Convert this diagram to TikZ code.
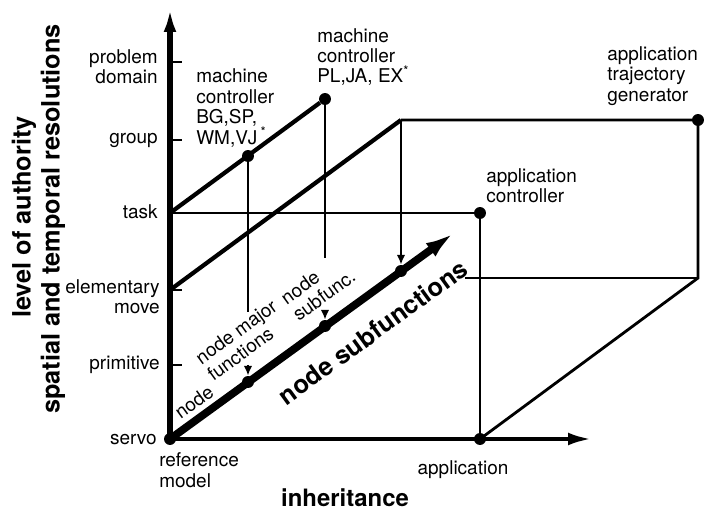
\documentclass[tikz,border=0pt]{standalone}
\usepackage{fontspec}
\setmainfont{TeX Gyre Heros}
\usetikzlibrary{arrows.meta}

\tikzset{
  lbl/.style={font=\fontsize{13.5}{14.5}\selectfont, inner sep=0pt, align=left},
  boldlbl/.style={font=\fontsize{18}{20}\selectfont\bfseries, inner sep=0pt},
  junction/.style={circle, fill, inner sep=0pt, minimum size=8.5pt},
  axis/.style={line width=3.6pt, -{Latex[length=17pt,width=9pt]}},
  cubeline/.style={line width=3pt},
  cubethin/.style={line width=2pt},
  drop/.style={line width=1.7pt, -{Latex[length=7pt,width=6pt]}},
}

\begin{document}
\begin{tikzpicture}[x=0.025cm, y=-0.025cm]
  \useasboundingbox (0,0) rectangle (708,523);
  % levels on the vertical axis
  \coordinate (ytip) at (170,8);
  \coordinate (xtip) at (592,439);
  \coordinate (lvProblem) at (170,62);
  \coordinate (lvGroup) at (170,140);
  \coordinate (lvTask) at (170,213);
  \coordinate (lvMove) at (170,290);
  \coordinate (lvPrim) at (170,365);
  \coordinate (back) at (401,120);
  \coordinate (backlow) at (698,278);
  \coordinate (backcut) at (465,278);
  \coordinate (sftip) at (458,230);
  \coordinate (dropAtop) at (248,312);
  \coordinate (dropAbot) at (248,365);
  \coordinate (dropBtop) at (325,258);
  \coordinate (dropBbot) at (325,313);

  % dots
  \node[junction] (servo) at (170,439) {};
  \node[junction] (mcBG) at (248,156) {};
  \node[junction] (mcPL) at (325,99) {};
  \node[junction] (traj) at (698,120) {};
  \node[junction] (appctl) at (480,213) {};
  \node[junction] (app) at (480,439) {};
  \node[junction] (nA) at (248,382) {};
  \node[junction] (nB) at (325,326) {};
  \node[junction] (nC) at (401,271) {};

  % axes
  \draw[axis] (servo.center) -- (ytip);
  \draw[axis, line width=3pt] (servo.center) -- (xtip);
  \foreach \lv in {lvProblem,lvGroup,lvMove,lvPrim}
    \draw[line width=1.8pt] (\lv) -- ++(12,0);

  % cube
  \draw[cubeline] (lvTask) -- (mcPL);
  \draw[cubeline] (lvMove) -- (back);
  \draw[cubethin] (back) -- (traj.center) -- (backlow) -- (app.center);
  \draw[cubethin] (lvTask) -- (appctl.center) -- (app.center);
  \draw[cubethin] (backcut) -- (backlow);
  \draw[line width=5.5pt, -{Latex[length=24pt,width=11pt]}] (servo.center) -- (sftip);

  % drops to the node functions
  \draw[line width=1.7pt] (mcBG) -- (dropAtop);
  \draw[drop] (dropAbot) -- (nA);
  \draw[line width=1.7pt] (mcPL) -- (dropBtop);
  \draw[drop] (dropBbot) -- (nB);
  \draw[drop] (back) -- (nC);

  % level labels
  \node[lbl, anchor=east, align=right] (tProblem) at (158,67) {problem\\domain};
  \node[lbl, anchor=east] (tGroup) at (158,140) {group};
  \node[lbl, anchor=east] (tTask) at (158,212) {task};
  \node[lbl, anchor=east, align=right] (tMove) at (160,297) {elementary\\move};
  \node[lbl, anchor=east] (tPrim) at (160,365) {primitive};
  \node[lbl, anchor=east] (tServo) at (157,440) {servo};
  \node[lbl, anchor=west] (tRef) at (159,470) {reference\\model};
  \node[lbl] (tApp) at (463,470) {application};

  % element labels
  \node[lbl, anchor=west] (tBG) at (196,108) {machine\\controller\\BG,SP,\\WM,VJ\,\textsuperscript{*}};
  \node[lbl, anchor=west] (tPL) at (317,57) {machine\\controller\\PL,JA, EX\textsuperscript{*}};
  \node[lbl, anchor=west] (tTraj) at (607,76) {application\\trajectory\\generator};
  \node[lbl, anchor=west] (tCtl) at (486,186) {application\\controller};
  \node[lbl, rotate=36] (tNode) at (194,402) {node};
  \node[lbl, rotate=36] (tMajor) at (242,340) {node major\\functions};
  \node[lbl, rotate=36] (tSub) at (318,287) {node\\subfunc.};

  % axis titles
  \node[boldlbl, rotate=36] (tSubf) at (373,332) {node subfunctions};
  \node[boldlbl, rotate=90] (tAuth) at (24,217) {level of authority};
  \node[boldlbl, rotate=90] (tRes) at (53,219) {spatial and temporal resolutions};
  \node[boldlbl, font=\fontsize{17}{19}\selectfont\bfseries] (tInh) at (345,498) {inheritance};
\end{tikzpicture}
\end{document}
